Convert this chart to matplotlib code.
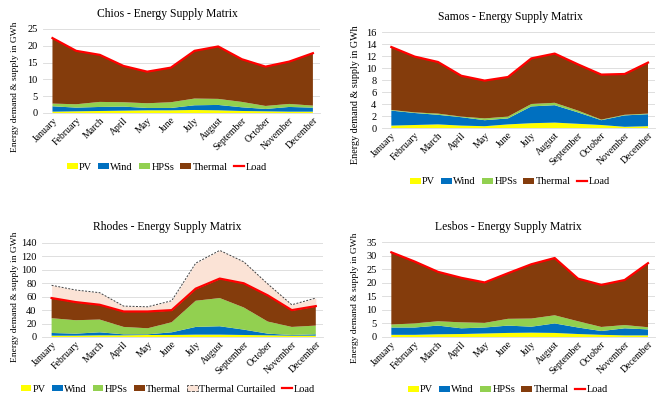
import numpy as np
import matplotlib.pyplot as plt
from matplotlib.patches import Patch
from matplotlib.lines import Line2D

plt.rcParams['font.family'] = ['Liberation Serif', 'DejaVu Serif']

months = ["January", "February", "March", "April", "May", "June", "July",
          "August", "September", "October", "November", "December"]

# Chios (GWh)
chios_pv = [0.4, 0.5, 0.6, 0.7, 0.8, 0.8, 0.9, 0.8, 0.6, 0.5, 0.4, 0.4]
chios_wind = [1.6, 1.1, 1.2, 1.2, 0.7, 0.7, 1.4, 1.6, 1.1, 0.7, 1.4, 1.2]
chios_hps = [0.8, 1.0, 1.5, 1.3, 1.4, 1.7, 2.0, 1.8, 1.6, 0.9, 0.9, 0.6]
chios_load = [22.3, 18.5, 17.3, 14.0, 12.3, 13.5, 18.5, 19.8, 16.0, 13.8, 15.3, 17.8]

# Samos (GWh)
samos_pv = [0.4, 0.5, 0.6, 0.4, 0.3, 0.6, 0.8, 0.9, 0.7, 0.5, 0.2, 0.3]
samos_wind = [2.5, 2.0, 1.6, 1.4, 1.0, 1.0, 2.8, 2.9, 1.9, 0.8, 1.9, 2.0]
samos_hps = [0.1, 0.1, 0.2, 0.1, 0.3, 0.3, 0.4, 0.4, 0.3, 0.1, 0.1, 0.1]
samos_load = [13.5, 11.9, 11.0, 8.7, 7.9, 8.5, 11.6, 12.4, 10.6, 8.9, 9.0, 10.9]

# Rhodes (GWh)
rhodes_pv = [2.0, 2.0, 2.5, 2.5, 3.0, 3.0, 3.5, 3.5, 3.0, 2.5, 2.0, 2.0]
rhodes_wind = [4.0, 3.0, 4.5, 1.5, 1.0, 4.0, 11.5, 12.5, 8.0, 2.5, 1.0, 2.0]
rhodes_hps = [22.0, 20.0, 19.0, 11.0, 9.0, 15.0, 39.0, 42.0, 33.0, 18.0, 12.0, 13.0]
rhodes_load = [58.0, 52.0, 48.0, 38.0, 38.0, 40.0, 72.0, 87.0, 80.0, 62.0, 40.0, 46.0]
rhodes_curtailed = [19.0, 18.0, 18.0, 8.0, 7.0, 14.0, 38.0, 42.0, 32.0, 17.0, 8.0, 12.0]

# Lesbos (GWh)
lesbos_pv = [0.8, 0.8, 1.0, 1.1, 1.3, 1.5, 1.6, 1.5, 1.1, 0.8, 0.6, 0.6]
lesbos_wind = [2.7, 2.7, 3.2, 2.1, 2.2, 2.7, 2.2, 3.5, 2.4, 1.4, 2.6, 2.2]
lesbos_hps = [1.1, 1.5, 1.6, 2.2, 1.7, 2.5, 3.0, 3.0, 2.3, 1.5, 1.2, 0.8]
lesbos_load = [31.2, 27.8, 24.0, 21.8, 20.1, 23.5, 26.8, 29.1, 21.5, 19.2, 21.0, 27.2]

C_PV = "#FFFF00"
C_WIND = "#0070C0"
C_HPS = "#92D050"
C_THERMAL = "#843C0C"
C_CURT = "#FBE3D6"
C_LOAD = "#FF0000"

W, H = 661, 399
fig = plt.figure(figsize=(W / 100, H / 100), dpi=100)


def px_axes(left, top, right, bottom):
    return fig.add_axes([left / W, 1 - bottom / H, (right - left) / W, (bottom - top) / H])


def draw_island(ax, pv, wind, hps, load, ymax, step, curtailed=None):
    x = np.arange(len(months))
    pv = np.array(pv)
    wind = np.array(wind)
    hps = np.array(hps)
    load = np.array(load)
    thermal = load - pv - wind - hps
    ax.set_axisbelow(True)
    ax.grid(axis="y", color="#D9D9D9", linewidth=0.6)
    ax.stackplot(x, pv, wind, hps, thermal,
                 colors=[C_PV, C_WIND, C_HPS, C_THERMAL], linewidth=0)
    if curtailed is not None:
        top = load + np.array(curtailed)
        ax.fill_between(x, load, top, color=C_CURT, linewidth=0)
        ax.plot(x, top, color="#404040", linestyle=(0, (2, 1.5)), linewidth=0.7)
    ax.plot(x, load, color=C_LOAD, linewidth=1.6)
    ax.set_xlim(-0.4, 11.3)
    ax.set_ylim(0, ymax)
    ax.set_yticks(np.arange(0, ymax + 1, step))
    ax.set_xticks(x)
    ax.set_xticklabels(months, rotation=45, ha="right", rotation_mode="anchor", fontsize=7)
    ax.tick_params(axis="y", labelsize=7.5, length=0, pad=4)
    ax.tick_params(axis="x", length=0, pad=2)
    for s in ["top", "right", "left"]:
        ax.spines[s].set_visible(False)
    ax.spines["bottom"].set_color("#D9D9D9")
    ax.spines["bottom"].set_linewidth(0.6)


def legend_handles(with_curtailed=False):
    h = [Patch(facecolor=C_PV, label="PV"),
         Patch(facecolor=C_WIND, label="Wind"),
         Patch(facecolor=C_HPS, label="HPSs"),
         Patch(facecolor=C_THERMAL, label="Thermal")]
    if with_curtailed:
        h.append(Patch(facecolor=C_CURT, edgecolor="#404040", linestyle="--",
                       linewidth=0.6, label="Thermal Curtailed"))
    h.append(Line2D([0], [0], color=C_LOAD, linewidth=1.6, label="Load"))
    return h


def add_legend(cx, cy, with_curtailed=False):
    fig.legend(handles=legend_handles(with_curtailed), loc="center",
               bbox_to_anchor=(cx / W, 1 - cy / H), ncol=6, frameon=False,
               fontsize=7.5, handlelength=1.0, handleheight=0.6,
               handletextpad=0.15, columnspacing=0.6, borderpad=0)


ylab = "Energy demand & supply in GWh"
tsize = 8.4

ax1 = px_axes(43, 29, 320, 113)
draw_island(ax1, chios_pv, chios_wind, chios_hps, chios_load, 25, 5)
fig.text(167 / W, 1 - 14 / H, "Chios - Energy Supply Matrix", ha="center", va="center", fontsize=tsize)
fig.text(15 / W, 1 - 87 / H, ylab, rotation=90, ha="center", va="center", fontsize=6.8)
add_legend(167, 167)

ax2 = px_axes(382, 32, 655, 128)
draw_island(ax2, samos_pv, samos_wind, samos_hps, samos_load, 16, 2)
fig.text(510 / W, 1 - 17 / H, "Samos - Energy Supply Matrix", ha="center", va="center", fontsize=tsize)
fig.text(355 / W, 1 - 95 / H, ylab, rotation=90, ha="center", va="center", fontsize=7.3)
add_legend(510, 182)

ax3 = px_axes(42, 243, 323, 337)
draw_island(ax3, rhodes_pv, rhodes_wind, rhodes_hps, rhodes_load, 140, 20,
            curtailed=rhodes_curtailed)
fig.text(167 / W, 1 - 227 / H, "Rhodes - Energy Supply Matrix", ha="center", va="center", fontsize=tsize)
fig.text(15 / W, 1 - 297 / H, ylab, rotation=90, ha="center", va="center", fontsize=6.8)
add_legend(168, 389, with_curtailed=True)

ax4 = px_axes(382, 242, 655, 337)
draw_island(ax4, lesbos_pv, lesbos_wind, lesbos_hps, lesbos_load, 35, 5)
fig.text(508 / W, 1 - 227 / H, "Lesbos - Energy Supply Matrix", ha="center", va="center", fontsize=tsize)
fig.text(355 / W, 1 - 298 / H, ylab, rotation=90, ha="center", va="center", fontsize=6.8)
add_legend(508, 390)

fig.savefig("out.png", dpi=100)
